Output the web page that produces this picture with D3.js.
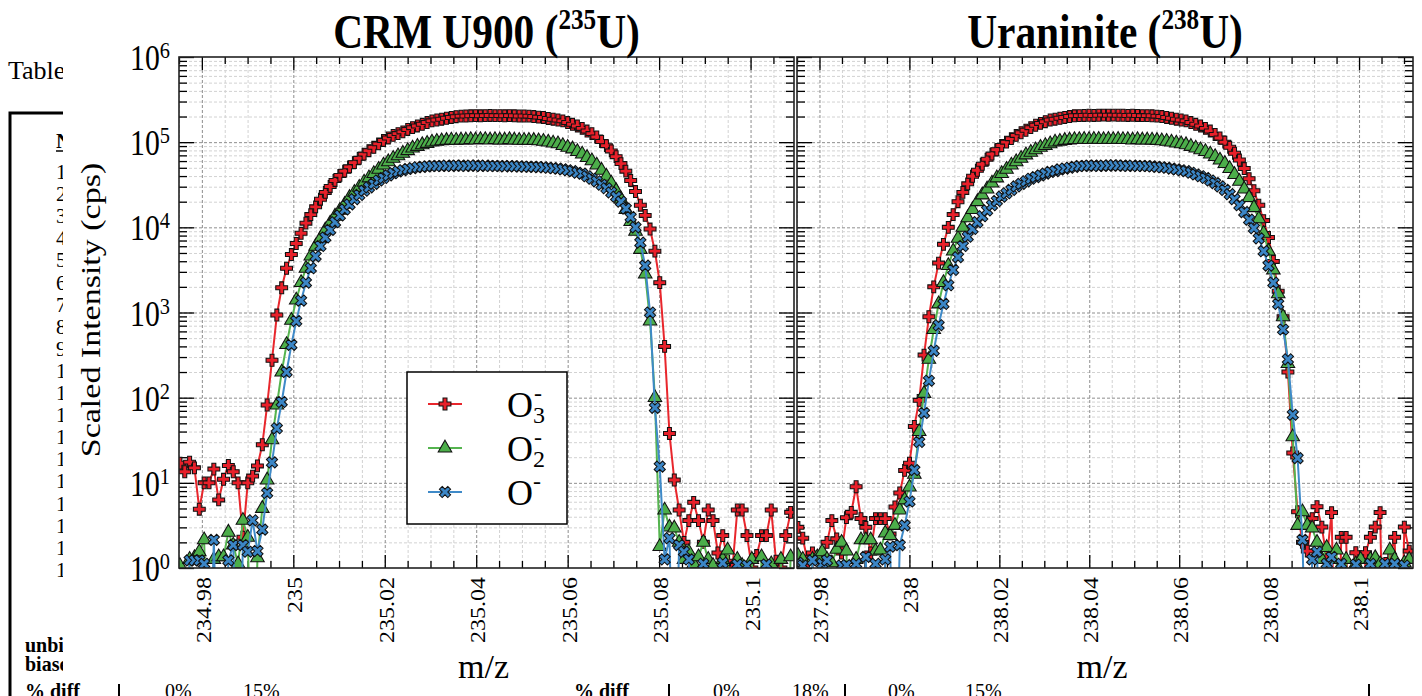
<!DOCTYPE html>
<html><head><meta charset="utf-8">
<script src="https://cdn.jsdelivr.net/npm/d3@7"></script>
<style>
body{margin:0;background:#fff;}
svg{display:block;font-family:"Liberation Serif","Times New Roman",serif;}
</style></head><body>
<svg id="c" width="1422" height="696"></svg>
<script>
// ---------------- DATA ----------------
const seriesNames = ["O3-", "O2-", "O-"];
const xLabelsL = ["234.98","235","235.02","235.04","235.06","235.08","235.1"];
const xLabelsR = ["237.98","238","238.02","238.04","238.06","238.08","238.1"];
const yTickExps = [0,1,2,3,4,5,6];
// m/z sampling (uniform magnet steps)
const mzStartL = 234.9752, mzStepL = 0.00106;
const mzStartR = 237.9752, mzStepR = 0.001079;

const redL = [17,13.5,17.5,15,4.9,10,10,14.5,6.3,11,
16,13.5,10,2.3,10,12,15.8,28,82,275,
933,1950,3310,4790,6460,8510,11200,14100,17400,21400,
25700,30200,35500,40700,45700,51300,57500,64600,72400,79400,
87100,95500,104700,112000,120000,126000,132000,141000,148000,155000,
162000,170000,178000,182000,186000,191000,195000,199000,202000,203000,
204000,205000,204000,205000,206000,205000,205000,204000,205000,204000,
203000,203000,202000,200000,197000,195000,190000,186000,182000,178000,
170000,162000,155000,145000,135000,126000,115000,102000,91000,79000,
67600,56000,45700,35500,26300,18200,13800,9550,5250,2240,
400,38,10.8,4.8,2.0,3.6,5.9,3.6,2.0,4.8,
3.6,1.5,2.4,1.2,1.0,4.8,4.8,2.4,1.0,1.4,
2.4,2.4,4.8,1.2,1.0,2.4,4.5];
const greenL = [1.07,0,1.26,1.32,1.55,2.14,0,1.26,1.35,1.35,
2.63,1.86,1.12,3.63,2.29,0,1.32,5.0,10.8,32,
82,200,420,810,1400,2240,3300,4600,6000,7400,
9300,11200,13500,15800,18600,22400,25700,29500,33900,38000,
42700,47900,53700,58900,64600,69200,74100,79400,85100,89100,
93300,96600,100000,102300,103500,104700,105900,105000,106000,106000,
107000,106000,107000,107000,106000,107000,106000,106000,107000,106000,
105000,105000,105000,104700,103500,102300,100000,97700,95500,91200,
87100,83200,77600,72400,66100,60300,53700,46800,39800,33100,
26900,21400,16200,11700,9000,5500,2820,794,100,1.78,
4.79,3.02,2.95,2.0,1.26,1.55,1.12,1.35,2.0,1.26,
1.07,0,1.26,1.62,0,1.26,1.07,0,1.26,0,
1.35,0,1.12,0,1.26,0,1.35];
const blueL = [0,0,1.23,1.23,1.23,1.12,0,2.14,0,0,
1.23,1.86,0,1.86,1.55,3.63,1.58,2.82,7.6,17.4,
43.7,89,200,417,794,1380,2240,3310,4570,6030,
7590,9330,11500,13800,16200,18600,21400,24000,26900,29500,
32400,35500,38000,40700,43200,45200,46800,48400,49500,50700,
51300,51900,52500,52500,52500,53000,52500,53000,53000,52500,
53000,53000,52500,53000,52500,52500,52500,52000,52500,52000,
52000,51500,51500,51300,51000,50700,50100,49500,49000,48000,
46800,45700,43700,42700,39800,37200,34700,31600,28800,25700,
22900,20000,16600,13200,10000,6610,3550,1000,76,15.5,
1.26,2.24,0,1.86,1.55,1.26,0,0,1.12,0,
0,0,1.15,0,0,1.1,0,1.07,0,0,
0,1.1,0,0,0,0,0];
const redR = [3.0,2.24,1.2,1.5,0,1.3,2.0,3.6,2.2,1.5,
3.9,4.5,9.0,3.8,3.0,1.5,3.8,3.8,3.8,2.5,
5.2,7.6,14,17,46,93,316,891,2000,3800,
6310,10000,14100,20000,25700,32400,39800,46800,55000,63100,
72400,81300,91200,100000,110000,120000,129000,138000,148000,158000,
166000,174000,182000,186000,191000,195000,200000,204000,205000,206000,
207000,206000,207000,208000,207000,208000,207000,207000,206000,207000,
206000,205000,205000,204000,202000,200000,195000,191000,186000,182000,
178000,170000,162000,155000,145000,135000,123000,112000,100000,87100,
74100,61700,49000,37200,26900,18200,12000,7590,3980,1780,
891,200,22.4,4.57,2.0,1.58,3.8,5.25,3.02,1.26,
4.47,0,2.29,2.29,0,1.51,0,1.51,2.29,3.02,
4.47,0,1.26,2.29,0,3.02,1.58];
const greenR = [1.41,1.26,0,1.26,1.35,1.55,1.26,1.15,1.66,2.0,
1.58,0,1.26,2.14,2.14,2.14,1.58,1.62,2.57,2.40,
3.16,4.79,6.31,8.91,12.6,40,112,282,631,1260,
2240,3550,5250,7410,10000,12900,16200,20000,24000,28200,
33100,38000,42700,47900,53700,58900,64600,70800,75900,81300,
87100,91200,95500,100000,102300,104700,106000,107000,107000,108000,
107000,108000,108000,107000,108000,107000,108000,107000,107000,106000,
107000,106000,106000,105900,104700,103500,102300,100000,97700,95500,
93300,89100,85100,81300,77600,72400,67600,61700,56200,49000,
41700,34700,28200,22400,17000,12600,8510,5250,3160,1660,
891,251,34.7,3.16,4.57,3.16,2.95,2.0,1.26,1.74,
1.26,1.62,0,1.26,0,1.12,1.26,0,1.26,1.32,
1.12,0,1.62,1.26,0,1.15,1.26];
const blueR = [1.15,1.07,0,1.23,0,1.12,1.23,0,0,1.07,
1.08,0,1.12,0,1.35,0,1.12,0,1.26,1.78,
0,1.86,3.16,6.03,14.1,30.2,66.1,158,355,708,
1260,2090,3160,4470,6030,7760,9550,11500,13500,15800,
18200,20400,22900,25100,27500,30200,32400,34700,37200,38900,
40700,42700,44700,45700,47900,49000,50100,51300,52500,52500,
53000,53000,52500,53000,53000,53500,53000,53000,52500,53000,
52500,52500,52500,51900,51300,50700,50100,49000,47900,46800,
45700,43700,41700,39800,38000,35500,33100,30200,27500,24500,
21400,18200,15100,12300,9770,7410,5250,3550,2240,1260,
631,282,63,19.5,2.14,0,1.26,1.55,0,1.12,
1.35,0,1.12,0,0,1.1,0,0,1.12,0,
0,1.12,0,1.12,0,1.07,0];

// background document text (page behind the figure)
const docRows = ["1","2","3","4","5","6","7","8","9","10","11","12","13","14","15","16","17","18","19"];
const docBottom = [
  {t:"% diff", x:25, b:true},{t:"0%", x:165},{t:"15%", x:243},
  {t:"% diff", x:574, b:true},{t:"0%", x:713},{t:"18%", x:792},
  {t:"0%", x:888},{t:"15%", x:965}];
const docBars = [119, 669, 845, 1369];

// ---------------- DRAW ----------------
const svg = d3.select("#c");
const FONT = '"Liberation Serif","Times New Roman",serif';
const TOP = 57, BOT = 568;

// document behind the figure
const doc = svg.append("g").attr("font-family", FONT);
doc.append("text").attr("x", 8).attr("y", 79).attr("font-size", 26).text("Table");
doc.append("path").attr("d", "M10,700V113H80").attr("fill","none").attr("stroke","#000").attr("stroke-width",3);
doc.append("text").attr("x", 56).attr("y", 148).attr("font-size", 21).attr("font-weight","bold").text("No");
doc.append("line").attr("x1",56).attr("x2",80).attr("y1",151).attr("y2",151).attr("stroke","#000").attr("stroke-width",1.5);
doc.selectAll("text.row").data(docRows).join("text").attr("class","row")
  .attr("x", 56).attr("y", (d,i)=>179 + i*22.1).attr("font-size", 21).text(d=>d);
doc.append("text").attr("x",25).attr("y",652).attr("font-size",20).attr("font-weight","bold").text("unbiased");
doc.append("text").attr("x",25).attr("y",671).attr("font-size",20).attr("font-weight","bold").text("biased");
doc.selectAll("text.bot").data(docBottom).join("text").attr("class","bot")
  .attr("x", d=>d.x).attr("y", 698).attr("font-size", 20)
  .attr("font-weight", d=>d.b ? "bold" : "normal").text(d=>d.t);
doc.selectAll("line.bar").data(docBars).join("line").attr("class","bar")
  .attr("x1",d=>d).attr("x2",d=>d).attr("y1",684).attr("y2",696).attr("stroke","#000").attr("stroke-width",2);

// figure canvas
svg.append("rect").attr("x",63).attr("y",0).attr("width",1422-63).attr("height",683).attr("fill","#fff");

const fig = svg.append("g").attr("font-family", FONT).attr("fill","#000");
const y = d3.scaleLog().domain([1, 1e6]).range([BOT, TOP]);

const styles = [
  {color:"#e8202a", line:"#e8262c", sym:d3.symbolCross, rot:0, size:78},
  {color:"#4cae4a", line:"#55b44f", sym:d3.symbolTriangle, rot:0, size:80},
  {color:"#3b86c6", line:"#3f8ac8", sym:d3.symbolCross, rot:45, size:78}
];

const panels = [
  {x0:179, x1:794, dom:[234.975, 235.1095], start:mzStartL, step:mzStepL, series:[redL,greenL,blueL],
   labels:xLabelsL, major0:234.98, title:["CRM U900 (","235","U)"], yLabels:true},
  {x0:797, x1:1413, dom:[237.975, 238.112], start:mzStartR, step:mzStepR, series:[redR,greenR,blueR],
   labels:xLabelsR, major0:237.98, title:["Uraninite (","238","U)"], yLabels:false}
];

const yMajor = yTickExps.map(e=>Math.pow(10,e));
const yMinor = [];
for (let e=0;e<6;e++) for (let k=2;k<=9;k++) yMinor.push(k*Math.pow(10,e));

panels.forEach((p, pi) => {
  const x = d3.scaleLinear().domain(p.dom).range([p.x0, p.x1]);
  const majors = p.labels.map(s => +s);
  const minors = [];
  for (let k=0;;k++){
    const v = +(p.major0 - 0.005 + k*0.005).toFixed(4);
    if (v > p.dom[1]+1e-9) break;
    if (v < p.dom[0]-1e-9) continue;
    if (!majors.some(m=>Math.abs(m-v)<1e-6)) minors.push(v);
  }
  const g = fig.append("g");
  const W = p.x1 - p.x0, Hh = BOT - TOP;
  const clean = (s, col, dash) => { s.select(".domain").remove(); s.selectAll("line").attr("stroke", col).attr("stroke-dasharray", dash); };

  // grid
  g.append("g").attr("transform",`translate(0,${BOT})`)
    .call(d3.axisBottom(x).tickValues(minors).tickSize(-Hh).tickFormat(""))
    .call(s=>clean(s,"#d2d2d2","3,2"));
  g.append("g").attr("transform",`translate(${p.x0},0)`)
    .call(d3.axisLeft(y).tickValues(yMinor).tickSize(-W).tickFormat(""))
    .call(s=>clean(s,"#d2d2d2","3,2"));
  g.append("g").attr("transform",`translate(0,${BOT})`)
    .call(d3.axisBottom(x).tickValues(majors).tickSize(-Hh).tickFormat(""))
    .call(s=>clean(s,"#8e8e8e","3,2"));
  g.append("g").attr("transform",`translate(${p.x0},0)`)
    .call(d3.axisLeft(y).tickValues(yMajor.slice(1,6)).tickSize(-W).tickFormat(""))
    .call(s=>clean(s,"#8e8e8e","3,2"));

  // ticks (inward)
  const tk = (s)=>{ s.select(".domain").remove(); s.selectAll("line").attr("stroke","#000").attr("stroke-width",1.3); };
  [[d3.axisBottom, BOT],[d3.axisTop, TOP]].forEach(([ax, yy])=>{
    g.append("g").attr("transform",`translate(0,${yy})`).call(ax(x).tickValues(minors).tickSize(-7).tickFormat("")).call(tk);
    g.append("g").attr("transform",`translate(0,${yy})`).call(ax(x).tickValues(majors).tickSize(-13).tickFormat("")).call(tk);
  });
  [[d3.axisLeft, p.x0],[d3.axisRight, p.x1]].forEach(([ax, xx])=>{
    g.append("g").attr("transform",`translate(${xx},0)`).call(ax(y).tickValues(yMinor).tickSize(-8).tickFormat("")).call(tk);
    g.append("g").attr("transform",`translate(${xx},0)`).call(ax(y).tickValues(yMajor).tickSize(-15).tickFormat("")).call(tk);
  });

  // data
  const clipId = "clip"+pi;
  svg.append("clipPath").attr("id", clipId).append("rect").attr("x",p.x0).attr("y",TOP).attr("width",W).attr("height",Hh);
  const plot = g.append("g").attr("clip-path", `url(#${clipId})`);
  const line = d3.line().x(d=>x(d.mz)).y(d=>y(Math.max(d.v, 0.01)));
  p.series.forEach((vals, si) => {
    const st = styles[si];
    const pts = vals.map((v,i)=>({mz: p.start + i*p.step, v}));
    plot.append("path").datum(pts).attr("d", line).attr("fill","none")
      .attr("stroke", st.line).attr("stroke-width", 2).attr("stroke-linejoin","round");
    plot.selectAll(null).data(pts.filter(d=>d.v>0)).join("path")
      .attr("d", d3.symbol(st.sym, st.size))
      .attr("transform", d=>`translate(${x(d.mz)},${y(d.v)}) rotate(${st.rot})`)
      .attr("fill", st.color).attr("stroke","#111").attr("stroke-width",1.05);
  });

  // frame
  g.append("rect").attr("x",p.x0).attr("y",TOP).attr("width",W).attr("height",Hh)
    .attr("fill","none").attr("stroke","#222").attr("stroke-width",1.6);

  // x tick labels
  g.selectAll("text.xl").data(majors).join("text").attr("class","xl")
    .attr("transform", (d)=>`translate(${x(d)+9},577) scale(0.85,1) rotate(-90)`)
    .attr("text-anchor","end").attr("font-size",24).text((d,i)=>p.labels[i]);

  // x axis title
  const cx = (p.x0+p.x1)/2;
  g.append("text").attr("x", cx - 3).attr("y", 678).attr("text-anchor","middle").attr("font-size",34).text("m/z");

  // panel title
  const tt = g.append("text").attr("transform",`translate(${cx},48) scale(0.9,1.04)`)
    .attr("text-anchor","middle").attr("font-size",46).attr("font-weight","bold");
  tt.append("tspan").text(p.title[0]);
  tt.append("tspan").attr("dy",-18).attr("font-size",28).text(p.title[1]);
  tt.append("tspan").attr("dy",18).text(p.title[2]);

  // y tick labels
  if (p.yLabels) {
    yTickExps.forEach(e=>{
      const t = g.append("text").attr("transform",`translate(170,${y(Math.pow(10,e))+13}) scale(0.85,1)`)
        .attr("text-anchor","end").attr("font-size",35);
      t.append("tspan").text("10");
      t.append("tspan").attr("dy",-12).attr("font-size",24).text(String(e));
    });
    g.append("text").attr("transform","translate(100,310) scale(0.82,1) rotate(-90)")
      .attr("text-anchor","middle").attr("font-size",34).text("Scaled Intensity (cps)");

    // legend
    const lg = g.append("g");
    lg.append("rect").attr("x",407).attr("y",372).attr("width",160).attr("height",152)
      .attr("fill","#fff").attr("stroke","#000").attr("stroke-width",1.5);
    const subs = ["3","2",""];
    const rowsY = [404,448,492];
    styles.forEach((st, si)=>{
      const ry = rowsY[si];
      lg.append("line").attr("x1",428).attr("x2",462).attr("y1",ry).attr("y2",ry).attr("stroke",st.line).attr("stroke-width",2);
      lg.append("path").attr("d", d3.symbol(st.sym, st.size)).attr("transform",`translate(445,${ry}) rotate(${st.rot})`)
        .attr("fill",st.color).attr("stroke","#111").attr("stroke-width",1.05);
      const t = lg.append("text").attr("x",507).attr("y",ry+13).attr("font-size",36);
      t.append("tspan").text("O");
      if (subs[si]) {
        t.append("tspan").attr("dy",6).attr("font-size",24).text(subs[si]);
        t.append("tspan").attr("dx",-11).attr("dy",-22).attr("font-size",24).text("-");
      } else {
        t.append("tspan").attr("dy",-16).attr("font-size",24).text("-");
      }
    });
  }
});
</script>
</body></html>
